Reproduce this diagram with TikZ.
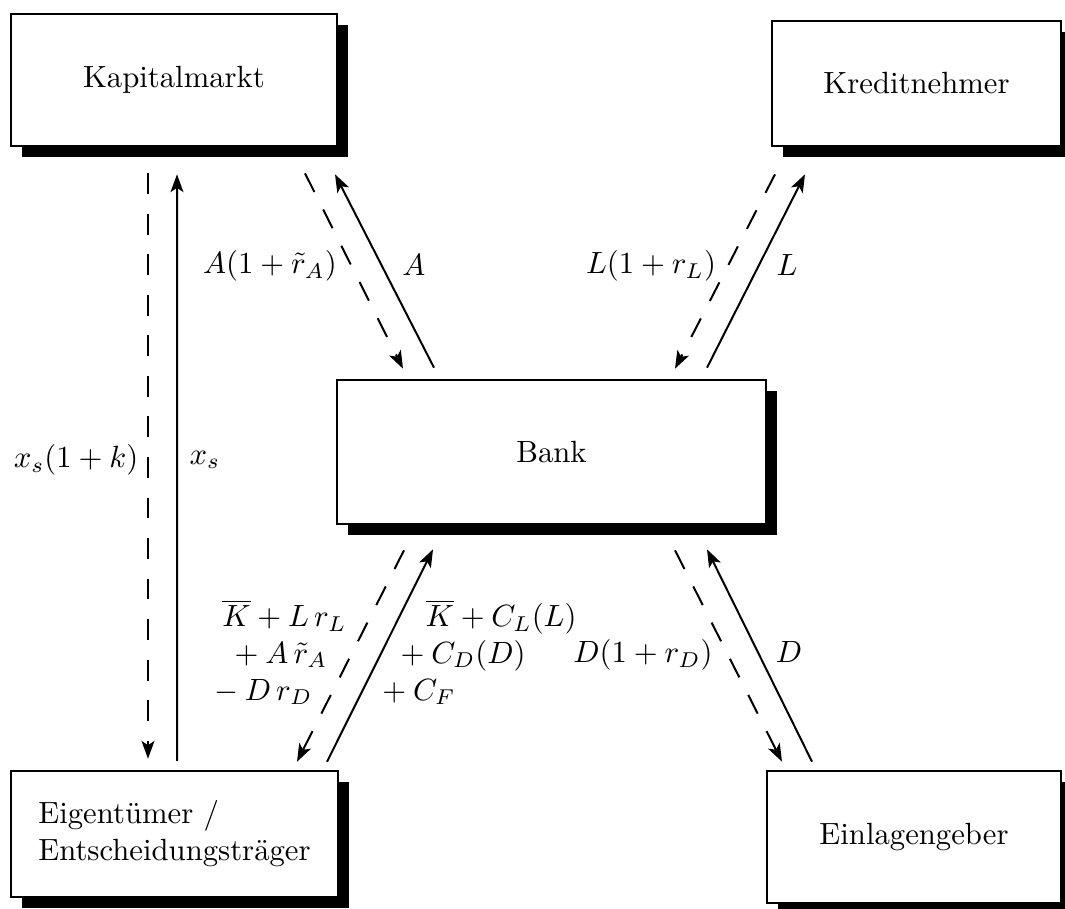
\documentclass[tikz,border=0pt]{standalone}
\usepackage{amsmath}
\usepackage{tikz}
\usetikzlibrary{arrows.meta, shadows, calc}
\tikzset{
  agent/.style={
    rectangle, draw=black, fill=white, line width=0.85pt,
    inner sep=0pt,
    drop shadow={shadow xshift=3.5pt, shadow yshift=-3.5pt,
                 fill=black, opacity=1}
  },
  payflow/.style={
    -{Stealth[length=5.8pt, width=4.2pt, inset=1.4pt]}, line width=0.65pt
  },
  dashflow/.style={
    payflow, dash pattern=on 6.8pt off 6.4pt
  },
  flowlabel/.style={
    inner sep=0pt
  }
}

\begin{document}
\begin{tikzpicture}[x=0.3257pt, y=-0.3257pt]

  \useasboundingbox (0,0) rectangle (1065,909);

  % ── Agents ─────────────────────────────────────────────────────────────
  \node[agent, minimum width=106.2pt, minimum height=43pt]   (kap)  at (174,80)     {Kapitalmarkt};
  \node[agent, minimum width=94.1pt,  minimum height=40.7pt] (kred) at (916.5,83.5) {Kreditnehmer};
  \node[agent, minimum width=139.7pt, minimum height=46.9pt] (bank) at (551.5,452)  {Bank};
  \node[agent, minimum width=106.5pt, minimum height=41pt, align=left]
                                                             (eig)  at (174.5,834)  {Eigentümer /\\Entscheidungsträger};
  \node[agent, minimum width=95.8pt,  minimum height=43pt]   (einl) at (914,837)    {Einlagengeber};

  % ── Flows: Kapitalmarkt <-> Eigentümer ─────────────────────────────────
  \draw[dashflow] ($(kap.south)+(-26,26)$) -- ($(eig.north)+(-26.5,-11)$);
  \draw[payflow]  ($(eig.north)+(2.5,-9)$) -- ($(kap.south)+(3,27)$);

  % ── Flows: Kapitalmarkt / Kreditnehmer <-> Bank ────────────────────────
  \draw[dashflow] ($(kap.south)+(131,26)$)     -- ($(bank.north)+(-148.5,-10)$);
  \draw[payflow]  ($(bank.north)+(-117.5,-11)$) -- ($(kap.south)+(161,27)$);
  \draw[dashflow] ($(kred.south)+(-141.5,27)$) -- ($(bank.north)+(123.5,-10)$);
  \draw[payflow]  ($(bank.north)+(155.5,-11)$)  -- ($(kred.south)+(-111.5,27)$);

  % ── Flows: Bank <-> Eigentümer / Einlagengeber ─────────────────────────
  \draw[dashflow] ($(bank.south)+(-147.5,25)$) -- ($(eig.north)+(122.5,-8)$);
  \draw[payflow]  ($(eig.north)+(152.5,-8)$)   -- ($(bank.south)+(-118.5,24)$);
  \draw[dashflow] ($(bank.south)+(123.5,25)$)  -- ($(einl.north)+(-132,-8)$);
  \draw[payflow]  ($(einl.north)+(-102,-8)$)   -- ($(bank.south)+(155.5,24)$);

  % ── Labels ─────────────────────────────────────────────────────────────
  \node[flowlabel] (lxk) at (76,460)  {$x_s(1+k)$};
  \node[flowlabel] (lx)  at (205,460) {$x_s$};
  \node[flowlabel] (lak) at (270,266) {$A(1+\tilde{r}_A)$};
  \node[flowlabel] (la)  at (414,265) {$A$};
  \node[flowlabel] (llk) at (651,266) {$L(1+r_L)$};
  \node[flowlabel] (ll)  at (787,265) {$L$};
  \node[flowlabel] (ldk) at (643,655) {$D(1+r_D)$};
  \node[flowlabel] (ld)  at (789,652) {$D$};

  \node[flowlabel, anchor=east, align=right] (lown) at (347,652)
    {$\overline{K}+L\,r_L$\\${}+A\,\tilde{r}_A\hspace{6.2pt}$\\${}-D\,r_D\hspace{11.1pt}$};
  \node[flowlabel, anchor=west, align=left] (lbank) at (375,652)
    {\hspace*{16.3pt}$\overline{K}+C_L(L)$\\\hspace*{5.9pt}${}+C_D(D)$\\${}+C_F$};

\end{tikzpicture}
\end{document}
